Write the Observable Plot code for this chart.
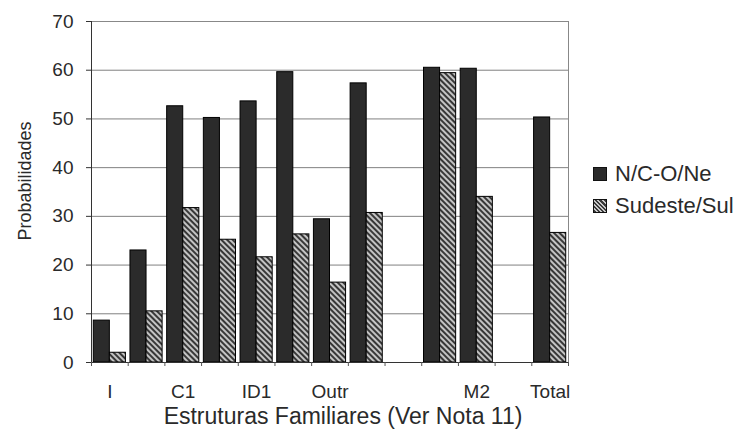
<!DOCTYPE html>
<html><head><meta charset="utf-8">
<script src="https://cdn.jsdelivr.net/npm/d3@7"></script>
<script src="https://cdn.jsdelivr.net/npm/@observablehq/plot@0.6"></script>
<style>
body{margin:0;background:#fff;font-family:"Liberation Sans",Arial,sans-serif;}
#wrap{position:relative;width:740px;height:435px;}
#legend{position:absolute;left:593px;top:158px;font-size:22px;color:#2a2a2a;}
.item{display:flex;align-items:center;height:32px;}
.sw{width:12px;height:12px;border:1px solid #111;margin-right:8px;box-sizing:content-box;}
.sw.dark{background:#2b2b2b;}
.sw.hatch{background:repeating-linear-gradient(45deg,#3a3a3a 0 1.5px,#c8c8c8 1.5px 3px);}
</style></head>
<body><div id="wrap"><div id="legend">
<div class="item"><span class="sw dark"></span><span>N/C-O/Ne</span></div>
<div class="item"><span class="sw hatch"></span><span>Sudeste/Sul</span></div>
</div></div>
<script>
const categories = ["I","","C1","","ID1","","Outr","","","","M2","","Total"];
const ncoValues = [8.6, 23.0, 52.6, 50.2, 53.6, 59.6, 29.4, 57.3, null, 60.5, 60.3, null, 50.3];
const sulValues = [2.0, 10.5, 31.7, 25.2, 21.6, 26.3, 16.4, 30.7, null, 59.4, 34.0, null, 26.6];
const yTicks = [0, 10, 20, 30, 40, 50, 60, 70];
const xTitle = "Estruturas Familiares (Ver Nota 11)";
const yTitle = "Probabilidades";

const rows = categories.map((c, i) => ({i, cat: c, nco: ncoValues[i], sul: sulValues[i]}));
const pad = 0.062;

const chart = Plot.plot({
  width: 740,
  height: 435,
  marginLeft: 91,
  marginRight: 172,
  marginTop: 21,
  marginBottom: 73,
  style: {fontFamily: "'Liberation Sans', Arial, sans-serif", color: "#2a2a2a", background: "white"},
  x: {type: "linear", domain: [0, categories.length], label: null},
  y: {domain: [0, 70], label: null},
  marks: [
    Plot.gridY({ticks: yTicks.filter(t => t > 0 && t < 70), stroke: "#555", strokeOpacity: 0.75}),
    Plot.frame({stroke: "#888"}),
    Plot.rect(rows.filter(d => d.nco != null), {
      x1: d => d.i + pad, x2: d => d.i + 0.5, y1: d => 0, y2: d => d.nco,
      fill: "#2b2b2b", stroke: "#000", strokeWidth: 1
    }),
    Plot.rect(rows.filter(d => d.sul != null), {
      x1: d => d.i + 0.5, x2: d => d.i + 1 - pad, y1: d => 0, y2: d => d.sul,
      fill: "url(#hatch)", stroke: "#000", strokeWidth: 1
    }),
    Plot.ruleX([0], {stroke: "#333"}),
    Plot.ruleY([0], {stroke: "#333"}),
    Plot.axisY({ticks: yTicks, tickSize: 5, tickPadding: 13, fontSize: 19, stroke: "#333"}),
    Plot.axisX({ticks: d3.range(categories.length + 1), tickSize: 4, tickFormat: () => "", stroke: "#555"}),
    Plot.axisX({ticks: categories.map((c, i) => i + 0.5), tickSize: 0, tickPadding: 22, fontSize: 19,
      tickFormat: d => categories[Math.floor(d)]}),
    Plot.text([xTitle], {frameAnchor: "bottom", lineAnchor: "bottom", textAnchor: "middle", dy: 61, dx: 13, fontSize: 23, text: d => d}),
    Plot.text([yTitle], {frameAnchor: "left", rotate: -90, textAnchor: "middle", dx: -66, dy: -11, fontSize: 18, text: d => d})
  ]
});

const svg = d3.select(chart);
const defs = svg.insert("defs", ":first-child");
const pat = defs.append("pattern")
  .attr("id", "hatch").attr("patternUnits", "userSpaceOnUse")
  .attr("width", 4).attr("height", 4)
  .attr("patternTransform", "rotate(45)");
pat.append("rect").attr("width", 4).attr("height", 4).attr("fill", "#c4c4c4");
pat.append("rect").attr("width", 4).attr("height", 2).attr("fill", "#383838");

document.getElementById("wrap").prepend(chart);
</script>
</body></html>
